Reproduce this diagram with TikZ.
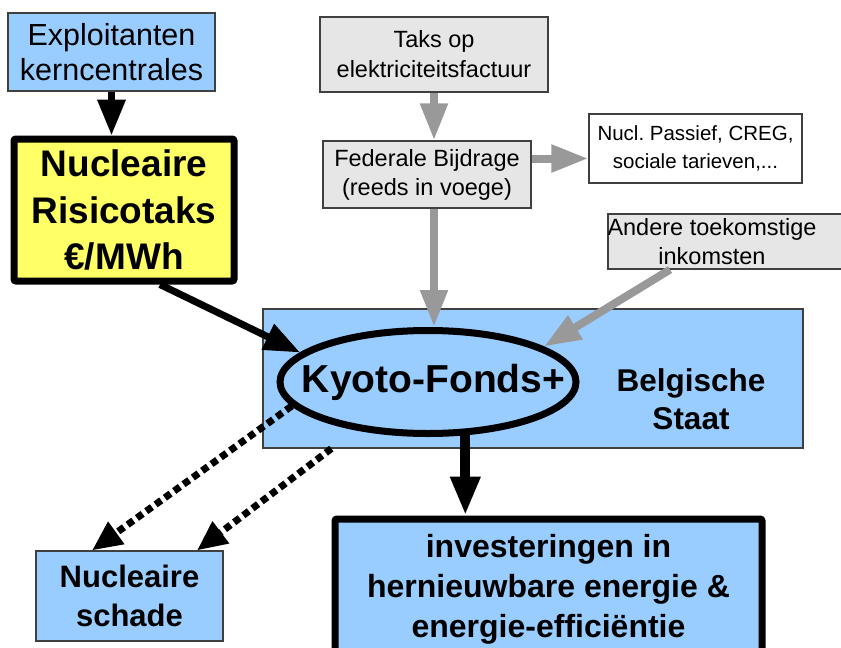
\documentclass[tikz,border=0pt]{standalone}
\usepackage{fontspec}
\setmainfont{Liberation Sans}
\usetikzlibrary{arrows.meta,calc,shapes.geometric}
\definecolor{skyblue}{HTML}{99CCFF}
\definecolor{lemon}{HTML}{FFFF66}
\definecolor{lightgrey}{HTML}{E6E6E6}
\definecolor{arrowgrey}{HTML}{999999}
\frenchspacing
\begin{document}
\begin{tikzpicture}[x=1pt,y=-1pt,
  thinbox/.style={draw=black!75,line width=1.2pt,inner sep=0pt,align=center},
  bluebox/.style={thinbox,fill=skyblue},
  greybox/.style={thinbox,fill=lightgrey},
  heavybox/.style={draw=black,line width=7pt,rounded corners=2pt,inner sep=0pt,align=center},
  blackarrow/.style={line width=7pt,-{Triangle[length=36pt,width=27pt]}},
  greyarrow/.style={arrowgrey,line width=8pt,-{Triangle[length=37pt,width=26pt]}},
  dotarrow/.style={line width=7pt,dash pattern=on 7pt off 4.5pt,-{Triangle[length=30pt,width=26pt]}}]
\useasboundingbox (0,0) rectangle (841,648);
\node[bluebox,minimum width=207pt,minimum height=78pt,font=\fontsize{30.5}{35}\selectfont] (expl) at (111.5,52) {Exploitanten\\kerncentrales};
\node[heavybox,fill=lemon,minimum width=220pt,minimum height=142pt,font=\fontsize{37}{46.5}\selectfont\bfseries] (risico) at (124,210) {Nucleaire\\Risicotaks\\€/MWh};
\node[bluebox,minimum width=540pt,minimum height=139pt] (staat) at (533,378.5) {};
\node[font=\fontsize{31.5}{38}\selectfont\bfseries,align=center] (staattxt) at (691,399) {Belgische\\Staat};
\node[draw=black,line width=7pt,ellipse,inner sep=0pt,minimum width=296pt,minimum height=103pt] (kyoto) at (428,382) {};
\node[font=\fontsize{39}{44}\selectfont\bfseries] (kyototxt) at (433.5,382) {Kyoto-Fonds+};
\node[greybox,minimum width=228pt,minimum height=75pt,font=\fontsize{23.5}{30}\selectfont] (taks) at (434,54.5) {Taks op\\elektriciteitsfactuur};
\node[greybox,minimum width=208pt,minimum height=67pt,font=\fontsize{23.5}{29}\selectfont] (fed) at (427,174.5) {Federale Bijdrage\\(reeds in voege)};
\node[thinbox,fill=white,minimum width=213pt,minimum height=69pt,font=\fontsize{20.5}{28}\selectfont] (nucl) at (695.5,148.5) {Nucl. Passief, CREG,\\sociale tarieven,...};
\node[greybox,minimum width=242pt,minimum height=55pt] (andere) at (729,241.5) {};
\node[font=\fontsize{23.5}{29}\selectfont,align=center] (anderetxt) at (712,242) {Andere toekomstige\\inkomsten};
\node[heavybox,fill=skyblue,minimum width=427pt,minimum height=141pt,font=\fontsize{32}{40}\selectfont\bfseries] (invest) at (548.5,589.5) {investeringen in\\hernieuwbare energie \&\\energie-efficiëntie};
\node[bluebox,minimum width=187pt,minimum height=90pt,font=\fontsize{31}{39}\selectfont\bfseries] (schade) at (129.5,596) {Nucleaire\\schade};

\coordinate (fedout) at ($(fed.east)+(0,-16)$);
\draw[blackarrow] (expl.south) -- (expl.south |- risico.north);
\draw[blackarrow] ($(risico.south)+(36,0)$) -- (kyoto.167);
\draw[greyarrow] (taks.south) -- (taks.south |- fed.north);
\draw[greyarrow] (fedout) -- (fedout -| nucl.west);
\draw[greyarrow] (taks.south |- fed.south) -- (taks.south |- kyoto.north);
\draw[greyarrow] ($(andere.south)+(-59,0)$) -- (kyoto.17);
\draw[line width=10pt,-{Triangle[length=39pt,width=28pt]}] (kyoto.-55) -- (kyoto.-55 |- invest.north);
\draw[dotarrow] (kyoto.190) -- ($(schade.north)+(-37.5,0)$);
\draw[dotarrow] ($(staat.south west)+(69,0)$) -- ($(schade.north)+(67.5,0)$);
\end{tikzpicture}
\end{document}
